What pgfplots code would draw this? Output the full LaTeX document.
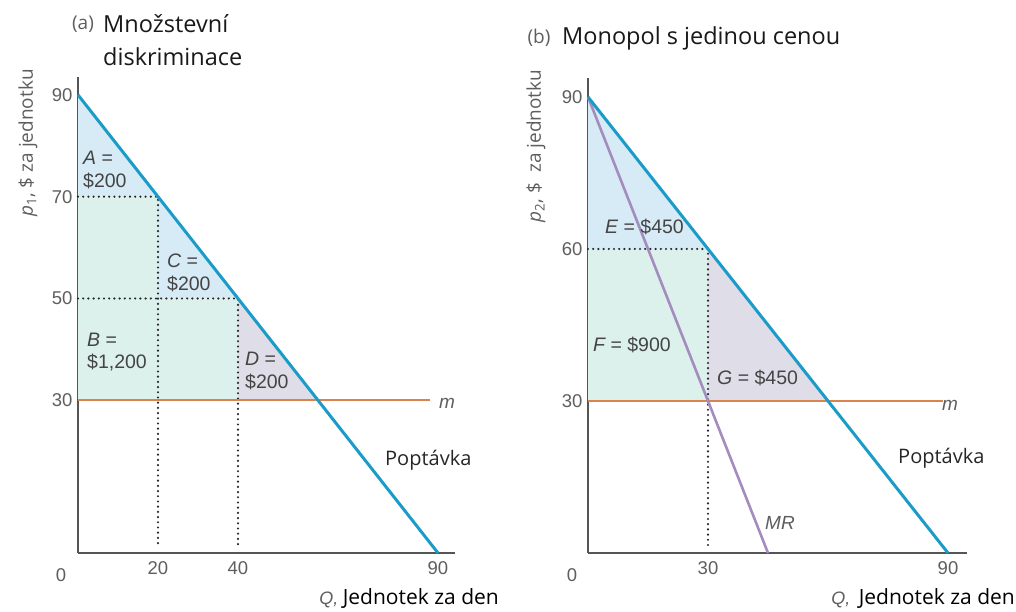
\documentclass[border=0pt]{standalone}
\usepackage{fontspec}
\setmainfont{Open Sans}
\newfontfamily\arialf{Liberation Sans}
\usepackage{pgfplots}
\pgfplotsset{compat=1.18}

\definecolor{demand}{HTML}{1B9BC8}
\definecolor{mcost}{HTML}{D9834E}
\definecolor{mrev}{HTML}{A48CBF}
\definecolor{csblue}{HTML}{D6EBF5}
\definecolor{psmint}{HTML}{DCF1EC}
\definecolor{dwl}{HTML}{DFDDE8}
\definecolor{axisgray}{HTML}{555555}
\definecolor{txtgray}{HTML}{444444}
\definecolor{lblgray}{HTML}{5E5E5E}

\pgfplotsset{
  panel/.style={
    anchor=south west,
    axis lines=left,
    axis line style={-, draw=axisgray, line width=1.3pt},
    x=4pt, xmin=0, ymin=0,
    clip=false,
    major tick length=0pt,
    tick label style={font=\arialf\fontsize{18.5}{18.5}\selectfont, text=lblgray},
    /pgf/number format/assume math mode=true,
    xticklabel style={yshift=-5pt},
    yticklabel style={xshift=-2pt},
  },
  demandline/.style={demand, line width=3pt},
  mline/.style={mcost, line width=2pt},
  mrline/.style={mrev, line width=2.6pt},
  guide/.style={draw=black!85, line width=2.4pt, line cap=round, dash pattern=on 0pt off 5.2pt},
}
\tikzset{
  area/.style={font=\arialf\fontsize{19.5}{22.5}\selectfont, text=txtgray, align=left, anchor=west, inner sep=0pt},
  curve/.style={font=\fontsize{20}{22}\selectfont, text=black!85, anchor=west, inner sep=0pt},
  ital/.style={font=\arialf\itshape\fontsize{19}{19}\selectfont, text=lblgray, anchor=west, inner sep=0pt},
  ttl/.style={font=\fontsize{23.5}{25}\selectfont, text=black!90, anchor=west, inner sep=0pt},
  tag/.style={font=\fontsize{19}{19}\selectfont, text=lblgray, inner sep=0pt},
  ylab/.style={rotate=90, font=\fontsize{19}{19}\selectfont, text=lblgray},
  qsym/.style={font=\arialf\itshape\fontsize{18}{18}\selectfont, text=lblgray, anchor=base east, inner sep=0pt},
  qtxt/.style={font=\fontsize{21}{23}\selectfont, text=black, anchor=base east, inner sep=0pt},
}

\begin{document}
\begin{tikzpicture}
\useasboundingbox (0,0) rectangle (1016pt,612pt);

% (a) quantity discrimination
\begin{axis}[panel, at={(78pt,59pt)}, y=5.09pt, xmax=94.25, ymax=93.5,
  xtick={20,40,90}, ytick={30,50,70,90}]
  \addplot[fill=csblue, draw=none] coordinates {(0,90) (20,70) (0,70)} -- cycle;
  \addplot[fill=csblue, draw=none] coordinates {(20,70) (40,50) (20,50)} -- cycle;
  \addplot[fill=psmint, draw=none] coordinates {(0,70) (20,70) (20,50) (40,50) (40,30) (0,30)} -- cycle;
  \addplot[fill=dwl, draw=none] coordinates {(40,50) (60,30) (40,30)} -- cycle;
  \addplot[guide] coordinates {(0,70) (20,70) (20,1)};
  \addplot[guide] coordinates {(0,50) (40,50) (40,1)};
  \addplot[mline] coordinates {(0,30) (88,30)};
  \addplot[demandline] coordinates {(0,90) (90,0)};
\end{axis}

% (b) single-price monopoly
\begin{axis}[panel, at={(588pt,59pt)}, y=5.067pt, xmax=94.75, ymax=93.8,
  xtick={30,90}, ytick={30,60,90}]
  \addplot[fill=csblue, draw=none] coordinates {(0,90) (30,60) (0,60)} -- cycle;
  \addplot[fill=psmint, draw=none] coordinates {(0,60) (30,60) (30,30) (0,30)} -- cycle;
  \addplot[fill=dwl, draw=none] coordinates {(30,60) (60,30) (30,30)} -- cycle;
  \addplot[guide] coordinates {(0,60) (30,60) (30,1)};
  \addplot[mline] coordinates {(0,30) (88.7,30)};
  \addplot[mrline] coordinates {(0,90) (45,0)};
  \addplot[demandline] coordinates {(0,90) (90,0)};
\end{axis}

% titles
\node[tag] at (83pt,588pt) {(a)};
\node[ttl] at (103pt,588pt) {Množstevní};
\node[ttl] at (103pt,555pt) {diskriminace};
\node[tag] at (539pt,574pt) {(b)};
\node[ttl] at (562pt,574pt) {Monopol s jedinou cenou};

% vertical axis labels
\node[ylab] at (28pt,469pt) {{\itshape p}\textsubscript{1}, \$ za jednotku};
\node[ylab] at (536pt,466pt) {{\itshape p}\textsubscript{2}, \$\ \ za jednotku};

% origin labels
\node[font=\arialf\fontsize{18.5}{18.5}\selectfont, text=lblgray] at (61pt,37pt) {0};
\node[font=\arialf\fontsize{18.5}{18.5}\selectfont, text=lblgray] at (572pt,37pt) {0};

% horizontal axis labels
\node[qtxt] (qa) at (499pt,7pt) {Jednotek za den};
\node[qsym] at ([xshift=-4pt]qa.base west) {Q,};
\node[qtxt] (qb) at (1015pt,7pt) {Jednotek za den};
\node[qsym] at ([xshift=-8pt]qb.base west) {Q,};

% area labels (a)
\node[area] at (83pt,442pt) {{\itshape A} =\\\$200};
\node[area] at (167pt,339pt) {{\itshape C} =\\\$200};
\node[area] at (87pt,260pt) {{\itshape B} =\\\$1,200};
\node[area] at (245pt,241pt) {{\itshape D} =\\\$200};
\node[ital] at (439pt,209pt) {m};
\node[curve] at (385pt,152pt) {Poptávka};

% area labels (b)
\node[area] at (605pt,385pt) {{\itshape E} = \$450};
\node[area] at (593pt,267pt) {{\itshape F} = \$900};
\node[area] at (717pt,234pt) {{\itshape G} = \$450};
\node[ital] at (942pt,207pt) {m};
\node[ital] at (765pt,89pt) {MR};
\node[curve] at (898pt,154pt) {Poptávka};
\end{tikzpicture}
\end{document}
